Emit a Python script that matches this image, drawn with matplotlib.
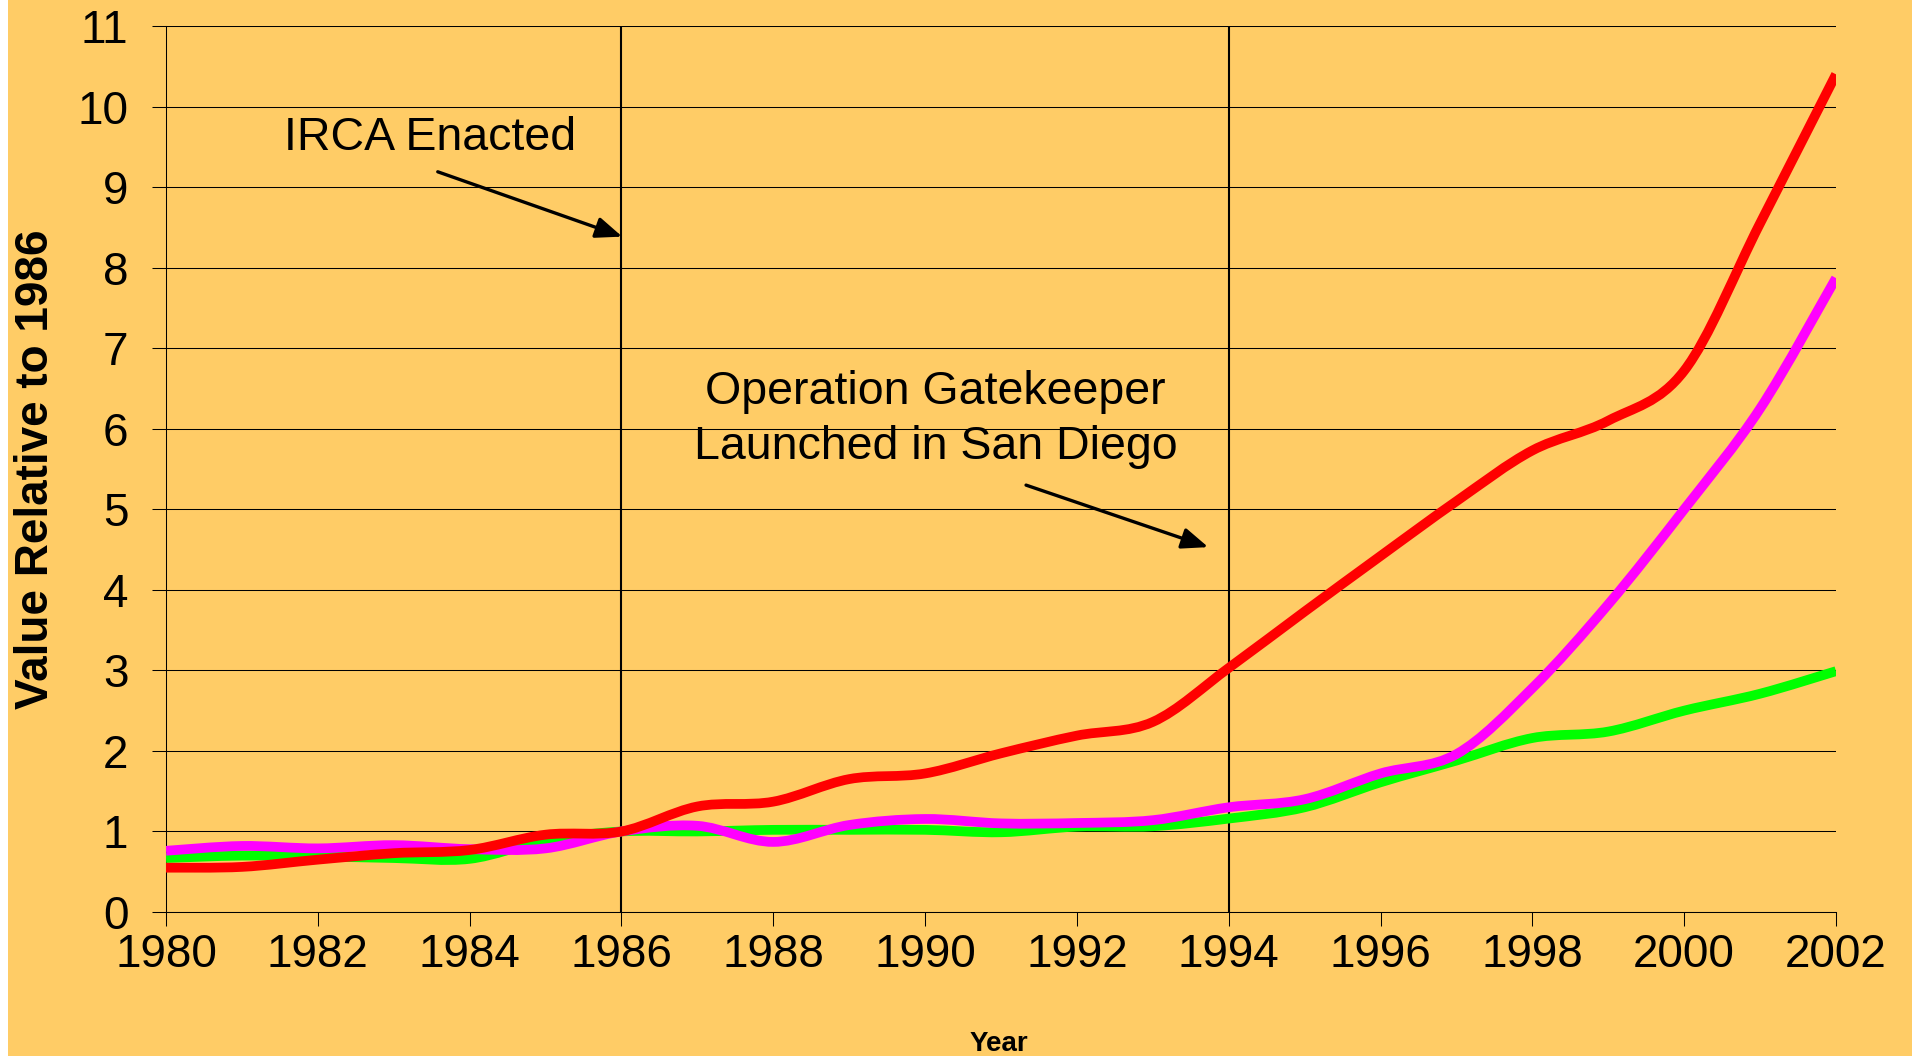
import numpy as np
import matplotlib
matplotlib.use("Agg")
import matplotlib.pyplot as plt
from matplotlib.path import Path
from matplotlib.patches import PathPatch, Rectangle

plt.rcParams['font.family'] = ['Liberation Sans', 'DejaVu Sans']

# ---- data ----
years = list(range(1980, 2003))
red_vals = [0.55, 0.56, 0.65, 0.73, 0.77, 0.96, 1.00, 1.31, 1.37, 1.65, 1.72, 1.97,
            2.19, 2.36, 3.03, 3.73, 4.42, 5.10, 5.73, 6.10, 6.72, 8.55, 10.40]
magenta_vals = [0.76, 0.82, 0.79, 0.83, 0.78, 0.79, 1.00, 1.07, 0.87, 1.08, 1.155, 1.10,
                1.105, 1.14, 1.30, 1.40, 1.72, 1.96, 2.78, 3.82, 5.00, 6.25, 7.87]
green_vals = [0.67, 0.70, 0.69, 0.67, 0.66, 0.89, 1.00, 1.00, 1.02, 1.02, 1.02, 0.99,
              1.06, 1.065, 1.16, 1.30, 1.61, 1.88, 2.16, 2.24, 2.50, 2.71, 2.99]
xtick_vals = list(range(1980, 2003, 2))
ytick_vals = list(range(0, 12))
event_years = [1986, 1994]

BG = '#FFCC66'


def smooth_path(xs, ys):
    """Excel-style smoothed line (cubic Bezier through the data points)."""
    xs = np.asarray(xs, float)
    ys = np.asarray(ys, float)
    n = len(xs)
    verts = [(xs[0], ys[0])]
    codes = [Path.MOVETO]
    for i in range(n - 1):
        i0 = max(i - 1, 0)
        i3 = min(i + 2, n - 1)
        c1 = (xs[i] + (xs[i + 1] - xs[i0]) / 6.0, ys[i] + (ys[i + 1] - ys[i0]) / 6.0)
        c2 = (xs[i + 1] - (xs[i3] - xs[i]) / 6.0, ys[i + 1] - (ys[i3] - ys[i]) / 6.0)
        verts += [c1, c2, (xs[i + 1], ys[i + 1])]
        codes += [Path.CURVE4] * 3
    return Path(verts, codes)


fig = plt.figure(figsize=(19.12, 10.56), dpi=100)
fig.patch.set_facecolor('white')
fig.patches.append(Rectangle((8 / 1912, 0), 1, 1, transform=fig.transFigure,
                             facecolor=BG, edgecolor='none', zorder=-10))

ax = fig.add_axes([166 / 1912, 1 - 912 / 1056, (1836 - 166) / 1912, (912 - 26) / 1056])
ax.set_facecolor(BG)

ax.set_xlim(1980, 2002)
ax.set_ylim(0, 11)
ax.set_xticks(xtick_vals)
ax.set_yticks(ytick_vals)
ax.yaxis.grid(True, color='black', lw=0.75, zorder=1)
ax.set_axisbelow(True)
for s in ['top', 'right']:
    ax.spines[s].set_visible(False)
for s in ['left', 'bottom']:
    ax.spines[s].set_color('black')
    ax.spines[s].set_linewidth(0.75)
ax.tick_params(axis='both', direction='out', length=10, width=0.75, labelsize=33,
               colors='black')
ax.tick_params(axis='y', pad=17)
ax.tick_params(axis='x', pad=5)

for yr in event_years:
    ax.axvline(yr, color='black', lw=1.5, zorder=2)

for vals, col, z in [(green_vals, '#00FF00', 3), (magenta_vals, '#FF00FF', 4),
                     (red_vals, '#FF0000', 5)]:
    ax.add_patch(PathPatch(smooth_path(years, vals), fill=False, edgecolor=col,
                           lw=7, capstyle='butt', joinstyle='round', zorder=z))

# annotations
ax.text(1983.48, 9.466, 'IRCA Enacted', fontsize=33.5, ha='center', va='baseline')
ax.annotate('', xy=(1986.01, 8.385), xytext=(1983.58, 9.19),
            arrowprops=dict(arrowstyle='-|>,head_length=0.5,head_width=0.2',
                            mutation_scale=32, lw=2.4, color='black',
                            shrinkA=0, shrinkB=0))
ax.text(1990.14, 6.31, 'Operation Gatekeeper', fontsize=33.5, ha='center', va='baseline')
ax.text(1990.14, 5.627, 'Launched in San Diego', fontsize=33.5, ha='center', va='baseline')
ax.annotate('', xy=(1993.73, 4.53), xytext=(1991.33, 5.30),
            arrowprops=dict(arrowstyle='-|>,head_length=0.5,head_width=0.2',
                            mutation_scale=32, lw=2.4, color='black',
                            shrinkA=0, shrinkB=0))

fig.text(36 / 1912, 1 - 469 / 1056, 'Value Relative to 1986', rotation=90,
         fontsize=33, fontweight='bold', ha='center', va='center')
fig.text(999 / 1912, 1 - 1051 / 1056, 'Year', fontsize=20, fontweight='bold',
         ha='center', va='baseline')

fig.savefig('out.png', dpi=100, facecolor=fig.get_facecolor())
